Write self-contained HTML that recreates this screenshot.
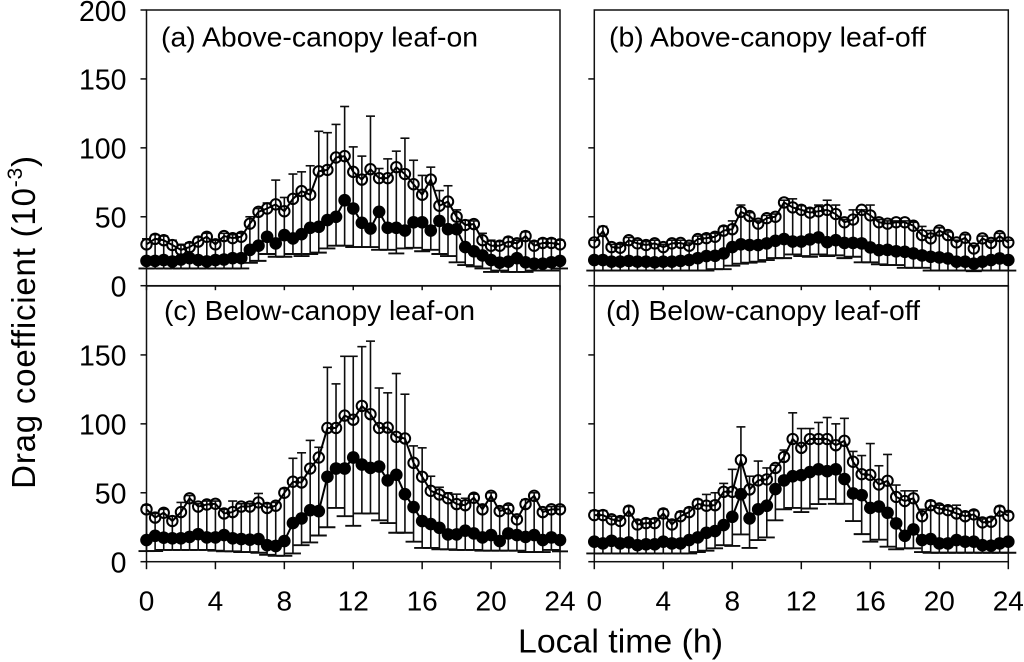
<!DOCTYPE html>
<html>
<head>
<meta charset="utf-8">
<title>Drag coefficient diurnal panels</title>
<style>
html,body{margin:0;padding:0;background:#fff;}
svg{display:block;font-family:"Liberation Sans",Arial,sans-serif;filter:blur(0.35px);}
text{fill:#000;}
</style>
</head>
<body>
<svg id="chart" width="1024" height="662" viewBox="0 0 1024 662" xmlns="http://www.w3.org/2000/svg">
<rect x="0" y="0" width="1024" height="662" fill="#fff"/>
<text x="161" y="46.5" font-size="28.2" textLength="317" lengthAdjust="spacingAndGlyphs">(a) Above-canopy leaf-on</text>
<text x="609" y="46.5" font-size="28.2" textLength="317" lengthAdjust="spacingAndGlyphs">(b) Above-canopy leaf-off</text>
<text x="164" y="320" font-size="28.2" textLength="311" lengthAdjust="spacingAndGlyphs">(c) Below-canopy leaf-on</text>
<text x="606" y="320" font-size="28.2" textLength="314" lengthAdjust="spacingAndGlyphs">(d) Below-canopy leaf-off</text>
<text transform="translate(35,322) rotate(-90)" text-anchor="middle" font-size="33" letter-spacing="0.8">Drag coefficient (10<tspan font-size="21" dy="-13">-3</tspan><tspan dy="13">)</tspan></text>
<text x="518" y="652.5" font-size="33" textLength="205" lengthAdjust="spacingAndGlyphs">Local time (h)</text>
</svg>
<script>
const hours=[0,0.5,1,1.5,2,2.5,3,3.5,4,4.5,5,5.5,6,6.5,7,7.5,8,8.5,9,9.5,10,10.5,11,11.5,12,12.5,13,13.5,14,14.5,15,15.5,16,16.5,17,17.5,18,18.5,19,19.5,20,20.5,21,21.5,22,22.5,23,23.5,24];
const xTickLabels=[0,4,8,12,16,20,24];
const yTickLabelsTop=[0,50,100,150,200];
const yTickLabelsBottom=[0,50,100,150];

const aOpen=[30,34,33,29.5,26,28,32,35.5,30,36,34.5,35.5,45,53.6,56,59,54,63,68.6,66,83,84,93,94,82.6,77,84.5,78,78,86,81,73.6,66,77,58,61,50,44,44.7,33,29,29,32,30.7,36,29,31,31,30];
const aFilled=[18,18,18.6,17.5,19,20,18.6,17.6,18.6,19,20,20,26,29,35.5,30.7,36.7,34.3,37.4,42,42.7,47.6,50,62,56,45.6,41.5,53.6,42,42,40,46,46,40,47,41,41,28,25,22,18.6,16.7,17.4,20,17,16,16,17,18];
const aUpper=[34,37,36,33,30,31,35,38,33,38,37,38,50,56,60,76.6,64,81,82.6,87,112,111,117,130,100.7,94,123,85,92,97.6,107,91,80,86,69,72.5,55,47.5,47,38,33,32,35,33,39,32,34,34,33];
const aLower=[12.5,12.5,12.5,12.5,12.5,12.5,12.5,12.5,12.5,12.5,12.5,12.5,16.6,18,23,21,21,23,21.5,23,24,27,29,29,28,28,28,26,26,23.4,27,27.5,25,26,23,21.5,17,15,14,12.5,10,11,10,10,10,11,11,11,12.5];

const bOpen=[31.4,39.6,28,27.5,33,30.7,29.5,30.7,28,30.7,31,29,33.8,34.5,35.5,40,41,53.6,50.5,45,49,50,60.4,56.8,55,53,54,55,52,46,48,55,51,46,45,46,46,43.5,36.7,34.3,40,36.7,31.4,34.8,27,34.3,31,36,31.4];
const bFilled=[18.6,18.6,17.4,17.4,18,17.4,17.4,17,17.4,17.4,18,18.6,20,21.5,21.7,23.4,28,30,29.5,29.5,30.7,32.6,33.8,32,32,33.6,35,31.6,33,31,31,30.7,27.8,25.8,26,25,24.6,23.4,22,21,20.5,19.8,17.4,17.4,16,17.4,18.6,19.8,18.6];
const bUpper=[33,43,30,30,35,33,32,33,30,33,33,31,36,37,38,43,47,58.5,53,47,51,52,62,63,58,56,58.5,62,58.5,48,55,55,58.5,48,47,47,47,46,43,40,42,39,33,37,29,36,33,38,33];
const bLower=[11,11,11,11,11,11,11,11,11,11,11,11,11,11,12,12,14.5,16,16.7,17.4,18.6,20,20,22.7,21.5,21,22.7,21.5,22,20,21,17,17,15.5,15,15,13,13,13,11,11,11,11,11,10.5,11,11,11,11];

const cOpen=[38,32,35.5,29.5,36,46,40,41.5,42,35,36,40,40,43,39,40.6,50,58,57.5,67.6,75.6,97,97,106,103,113,107,97,97.3,90.6,89.4,71.7,61.6,51.4,48.8,46,41.8,41,46.4,38,47.8,36.7,38.6,30.7,41.8,47.8,36,38,38];
const cFilled=[15.7,18.8,17.4,17,17,18,20,17.6,17.6,19.3,17,16.4,16,16.4,12,11.4,15,28,31.4,37.4,36.7,61.6,67.6,67.6,75.6,70.5,68,69,59,63,49,39.6,29.5,27.3,24.6,19.8,19.8,22.5,20.5,17.6,19.3,15,20.5,19.3,18,19.3,15.7,17.6,15.7];
const cUpper=[41,35,38,33,43,48,42,44,44,38,44,42,42,49.5,42,43,53,75,79,88,83,141,129,149,149,156,160,126,122.5,136.5,121.5,84,82.6,62,54,50,49,46,49,41,50,39,41,33,45,50,38,40,40];
const cLower=[7.7,7.7,8.5,8.5,8.5,8.5,8.5,8.5,8,7.5,7.5,7,7,6.5,5,4.3,4.3,6,12,14,19,25,39,33,26,35,35,30,28,21,21,14.5,10,10,9,9,8.5,8.5,8.5,8,8,8,8,8,7,7,7,8.5,7.5];

const dOpen=[33.8,33.8,30.7,29.5,37,27,28,28,35,27,33,36,42,40.6,41,50.7,50.7,73.7,52.4,59,59.7,68,76,89,82.6,89,89,89,84.5,87.7,72.5,63.5,63,56,58.7,47,44,46,33,41,38.6,37.4,35,33,34.3,28.5,29,37,33.3];
const dFilled=[14.5,13.3,15.2,13.3,14,12,12.6,12.6,14.5,13.3,13.3,15.7,17.6,21,22.2,26.6,32.6,49,31.4,38,40.6,52.7,59,62,62.8,65,67,65.7,67,60,49.5,48.3,39,40,35.5,27.8,18.8,23.4,15.7,16.4,13.3,13.3,15.7,14.5,14.5,12,11.6,13.3,14.5];
const dUpper=[37,37,33,32,40,30,31,31,38,30,36,39,45,48.8,50,56.8,67,97.8,62,73,68,70,81,108,96.6,96.6,101,104.6,100,104,80,77,85.7,69.6,77.8,55.6,51.4,51.4,38,44,41,40,41,36,37,31,32,40,36];
const dLower=[6,6,6,6,6,6,6,6,6,6,6,6,7,8,9.7,12,11.4,19.8,10,15.7,17.6,30,38,39,36,38.6,41.8,45.4,42,42,29.5,20,14.5,16,10.9,9,9.7,9.7,7,6.5,6.5,6.5,6.5,6.5,6.5,6.5,6.5,6.5,6.5];

const NS='http://www.w3.org/2000/svg';
const svg=document.getElementById('chart');
const panels=[
 {id:'a',left:146.5,right:560,top:10,bottom:285.7,open:aOpen,filled:aFilled,upper:aUpper,lower:aLower,yLabels:yTickLabelsTop,showX:false},
 {id:'b',left:594.3,right:1008.3,top:10,bottom:285.7,open:bOpen,filled:bFilled,upper:bUpper,lower:bLower,yLabels:null,showX:false},
 {id:'c',left:146.5,right:560,top:286,bottom:561.7,open:cOpen,filled:cFilled,upper:cUpper,lower:cLower,yLabels:yTickLabelsBottom,showX:true},
 {id:'d',left:594.3,right:1008.3,top:286,bottom:561.7,open:dOpen,filled:dFilled,upper:dUpper,lower:dLower,yLabels:null,showX:true}
];
function make(tag,attrs){
  const el=document.createElementNS(NS,tag);
  for(const k in attrs){el.setAttribute(k,attrs[k]);}
  return el;
}
function xScale(p,h){return p.left+(p.right-p.left)*h/24;}
function yScale(p,v){return p.bottom-(p.bottom-p.top)*v/200;}
function segment(parent,x1,y1,x2,y2,w,name){
  const el=make('line',{x1:x1,y1:y1,x2:x2,y2:y2,stroke:'#0d0d0d','stroke-width':w});
  
  
  parent.appendChild(el);
}
function polyline(parent,p,values,name){
  const pts=hours.map((h,i)=>xScale(p,h).toFixed(2)+','+yScale(p,values[i]).toFixed(2)).join(' ');
  const el=make('polyline',{points:pts,fill:'none',stroke:'#000','stroke-width':2});
  
  
  parent.appendChild(el);
}
panels.forEach(p=>{
  const g=make('g',{});
  
  
  svg.appendChild(g);
  const frame=make('rect',{x:p.left,y:p.top,width:p.right-p.left,height:p.bottom-p.top,fill:'none',stroke:'#111','stroke-width':1.5});
  
  
  g.appendChild(frame);
  xTickLabels.forEach(t=>{
    const x=xScale(p,t);
    segment(g,x,p.bottom,x,p.bottom+(p.showX?7.5:4.5),1.5,'x-tick-'+t);
    if(p.showX){
      const lab=make('text',{x:x,y:610.7,'text-anchor':'middle','font-size':28});
      
      
      lab.textContent=t;
      svg.appendChild(lab);
    }
  });
  (p.yLabels||yTickLabelsBottom).forEach(t=>{
    const y=yScale(p,t);
    segment(g,p.left-6,y,p.left,y,1.5,'y-tick-'+t);
    if(p.yLabels){
      const lab=make('text',{x:126.5,y:y+10.8,'text-anchor':'end','font-size':28.5});
      
      
      lab.textContent=t;
      svg.appendChild(lab);
    }
  });
  hours.forEach((h,i)=>{
    const x=xScale(p,h),yu=yScale(p,p.upper[i]),yl=yScale(p,p.lower[i]);
    segment(g,x,yu,x,yl,1.6,'error-bar');
    segment(g,x-4.5,yu,x+4.5,yu,1.6,'error-cap-upper');
    segment(g,x-8,yl,x+8,yl,1.9,'error-cap-lower');
  });
  polyline(g,p,p.filled,'filled-series-line');
  polyline(g,p,p.open,'open-series-line');
  hours.forEach((h,i)=>{
    const c=make('circle',{cx:xScale(p,h),cy:yScale(p,p.filled[i]),r:6.3,fill:'#000'});
    
    
    g.appendChild(c);
  });
  hours.forEach((h,i)=>{
    const c=make('circle',{cx:xScale(p,h),cy:yScale(p,p.open[i]),r:5.2,fill:'none',stroke:'#000','stroke-width':2});
    
    
    g.appendChild(c);
  });
});
</script>
</body>
</html>
